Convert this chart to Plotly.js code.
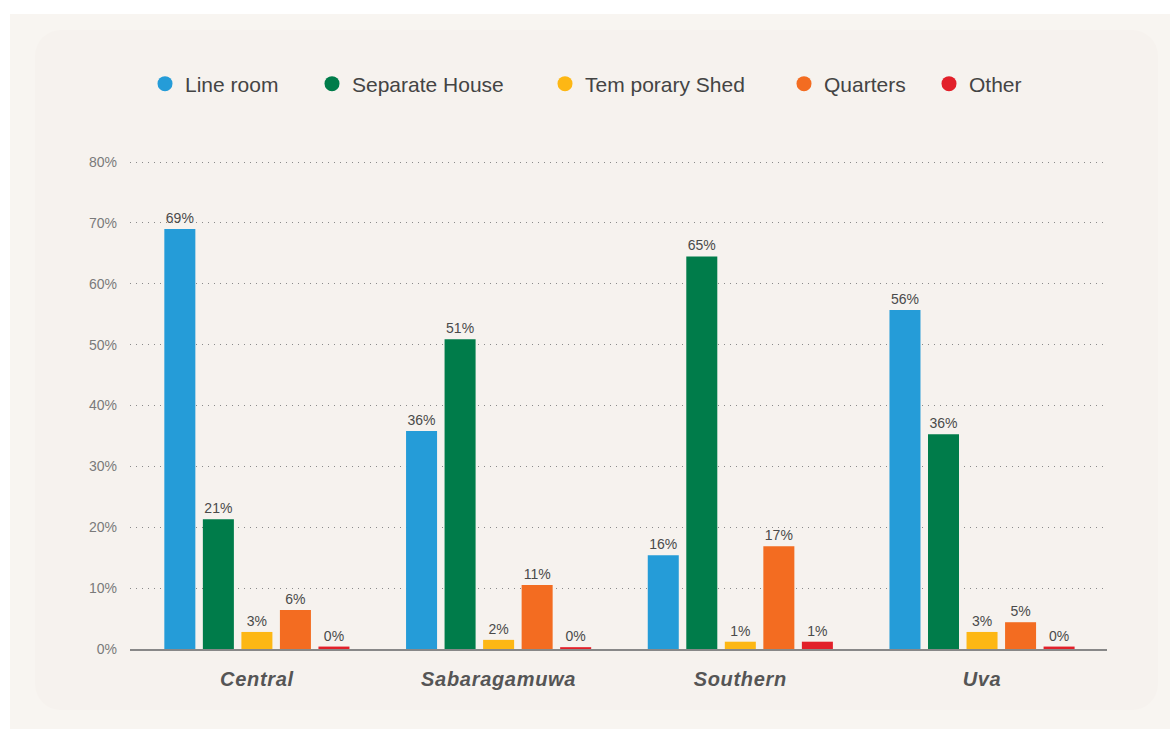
<!DOCTYPE html>
<html>
<head>
<meta charset="utf-8">
<script src="https://cdn.plot.ly/plotly-3.0.1.min.js"></script>
<style>
  html, body { margin: 0; padding: 0; background: #ffffff; }
  #wrap { position: relative; width: 1170px; height: 729px; overflow: hidden; }
  #outer { position: absolute; left: 10px; top: 14px; width: 1160px; height: 715px; background: #f8f5f1; }
  #inner { position: absolute; left: 35px; top: 30px; width: 1123px; height: 680px; background: #f6f2ee; border-radius: 26px; }
  #chart { position: absolute; left: 0; top: 0; width: 1170px; height: 729px; }
  #chart .xtick text { letter-spacing: 0.7px; }
</style>
</head>
<body>
<div id="wrap">
  <div id="outer"></div>
  <div id="inner"></div>
  <div id="chart"></div>
</div>
<script>
// Categories (provinces)
const provinces = ["Central", "Sabaragamuwa", "Southern", "Uva"];

// Series names
const seriesNames = ["Line room", "Separate House", "Tem porary Shed", "Quarters", "Other"];

// Values (% of households)
const lineRoom      = [69.0, 35.8, 15.4, 55.7];
const separateHouse = [21.3, 50.9, 64.5, 35.3];
const temporaryShed = [2.8, 1.5, 1.2, 2.8];
const quarters      = [6.4, 10.5, 16.9, 4.4];
const other         = [0.4, 0.3, 1.2, 0.4];

// Printed data labels
const lineRoomLabels      = ["69%", "36%", "16%", "56%"];
const separateHouseLabels = ["21%", "51%", "65%", "36%"];
const temporaryShedLabels = ["3%", "2%", "1%", "3%"];
const quartersLabels      = ["6%", "11%", "17%", "5%"];
const otherLabels         = ["0%", "0%", "1%", "0%"];

// Y axis ticks
const yTickVals   = [0, 10, 20, 30, 40, 50, 60, 70, 80];
const yTickLabels = ["0%", "10%", "20%", "30%", "40%", "50%", "60%", "70%", "80%"];

const colors = ["#259cd8", "#007c4a", "#fdb714", "#f36c21", "#e2202a"];
const values = [lineRoom, separateHouse, temporaryShed, quarters, other];
const labels = [lineRoomLabels, separateHouseLabels, temporaryShedLabels, quartersLabels, otherLabels];
const legendIds = ["legend", "legend2", "legend3", "legend4", "legend5"];
// left edge (px, in the 1170-wide page) of each legend entry
const legendLeft = [145, 312, 545, 784, 929];

const FONT = "Liberation Sans, Arial, sans-serif";
const traces = [];
for (let i = 0; i < seriesNames.length; i++) {
  traces.push({
    type: "bar",
    name: seriesNames[i],
    x: provinces,
    y: values[i],
    text: labels[i],
    texttemplate: "%{text}",
    textposition: "outside",
    textfont: { family: FONT, size: 14, color: "#4a4a4a" },
    cliponaxis: false,
    marker: { color: colors[i] },
    showlegend: false,
    hoverinfo: "x+y+name"
  });
}
// Legend entries with round markers
for (let i = 0; i < seriesNames.length; i++) {
  traces.push({
    type: "scatter",
    mode: "markers",
    name: seriesNames[i],
    x: [null],
    y: [null],
    marker: { color: colors[i], size: 15, symbol: "circle" },
    showlegend: true,
    legend: legendIds[i],
    hoverinfo: "skip"
  });
}

const layout = {
  width: 1170,
  height: 729,
  paper_bgcolor: "rgba(0,0,0,0)",
  plot_bgcolor: "rgba(0,0,0,0)",
  margin: { l: 130, r: 63, t: 159, b: 80 },
  barmode: "group",
  bargap: 0.203,
  bargroupgap: 0.195,
  font: { family: FONT, color: "#444" },
  showlegend: true,
  xaxis: {
    type: "category",
    range: [-0.525, 3.517],
    showgrid: false,
    showline: true,
    linecolor: "#888",
    linewidth: 1.5,
    ticks: "",
    ticklabelstandoff: 11,
    tickfont: { family: FONT, size: 20, color: "#555", weight: "bold", style: "italic" },
    zeroline: false,
    fixedrange: true
  },
  yaxis: {
    range: [0, 80.5],
    tickvals: yTickVals,
    ticktext: yTickLabels,
    showgrid: true,
    gridcolor: "#8a8a8a",
    gridwidth: 1,
    griddash: "1px,5px",
    zeroline: false,
    showline: false,
    ticks: "",
    ticklabelstandoff: 12,
    tickfont: { family: FONT, size: 14, color: "#7a7a7a" },
    fixedrange: true
  }
};
for (let i = 0; i < legendIds.length; i++) {
  layout[legendIds[i]] = {
    orientation: "h",
    xref: "container",
    yref: "container",
    x: legendLeft[i] / 1170,
    xanchor: "left",
    y: 1 - 84 / 729,
    yanchor: "middle",
    font: { family: FONT, size: 21, color: "#444" },
    bgcolor: "rgba(0,0,0,0)",
    borderwidth: 0,
    itemwidth: 30
  };
}

Plotly.newPlot("chart", traces, layout, { displayModeBar: false, staticPlot: true });
</script>
</body>
</html>
